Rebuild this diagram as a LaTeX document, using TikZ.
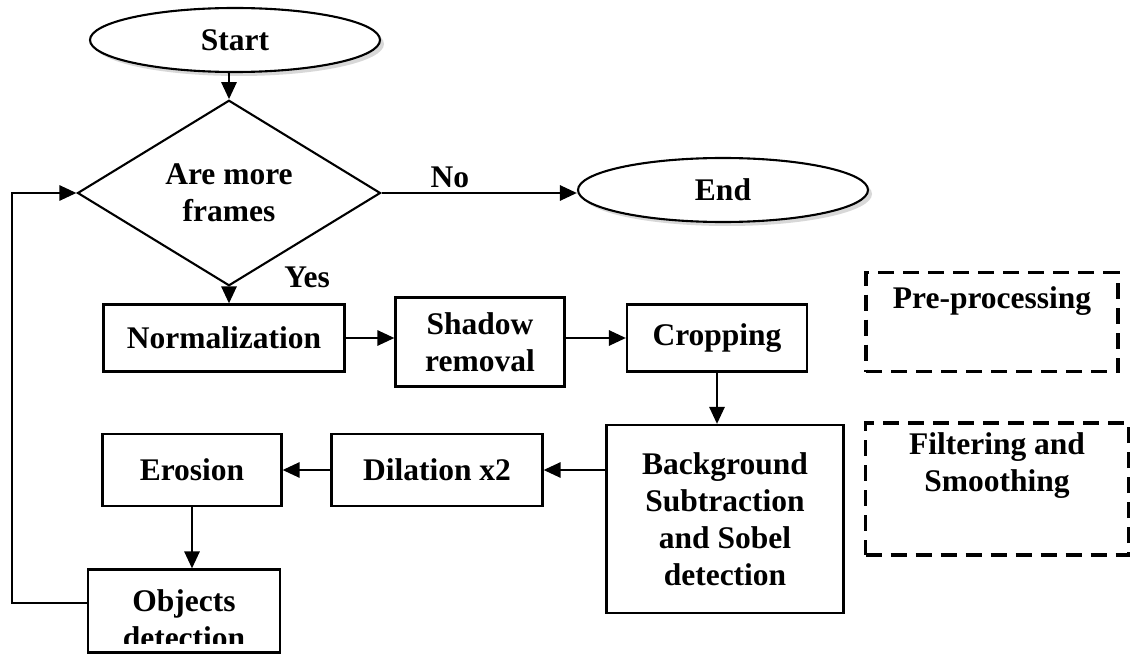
\documentclass[tikz,border=0pt]{standalone}
\usepackage{fontspec}
\setmainfont{Liberation Serif}
\usetikzlibrary{shapes,arrows.meta,shadows,positioning}

\begin{document}
\begin{tikzpicture}[x=1pt, y=-1pt, >={Triangle[length=17pt,width=15pt]}, line width=2.1pt,
  every node/.style={font=\bfseries\fontsize{31.5}{37}\selectfont, inner sep=2pt, align=center},
  term/.style={ellipse, draw, fill=white, minimum width=290pt, minimum height=64pt,
    drop shadow={shadow xshift=4pt, shadow yshift=-4pt, fill=gray!60}},
  proc/.style={rectangle, draw, fill=white},
  flow/.style={->, line width=2.7pt},
  dashbox/.style={rectangle, draw, dash pattern=on 16pt off 9pt, line width=3.8pt}]
\useasboundingbox (0,0) rectangle (1132,655);

\node[term] (start) at (235,40) {Start};
\node[diamond, draw, inner sep=0pt, minimum width=303pt, minimum height=159pt] (decision) at (229,193) {Are more\\frames};
\node[term] (stop) at (723,190) {End};
\node[proc, minimum width=241pt, minimum height=67pt] (norm) at (224,338) {Normalization};
\node[proc, minimum width=169pt, minimum height=89pt] (shadow) at (480,342) {Shadow\\removal};
\node[proc, minimum width=180pt, minimum height=67pt] (crop) at (717,338) {Cropping};
\node[proc, minimum width=237pt, minimum height=188pt] (background) at (725,519) {Background\\Subtraction\\and Sobel\\detection};
\node[proc, minimum width=211pt, minimum height=72pt] (dilation) at (437,470) {Dilation x2};
\node[proc, minimum width=179pt, minimum height=72pt] (erosion) at (192,470) {Erosion};
\node[proc, minimum width=192pt, minimum height=83pt] (objdet) at (184,611) {};
\begin{scope}
\clip (objdet.north west) rectangle ([yshift=10pt]objdet.south east);
\node (objtext) at (184,619) {Objects\\detection};
\end{scope}

\node[dashbox, minimum width=252pt, minimum height=99pt] (prebox) at (992,322) {};
\node (pretext) at ([yshift=-30pt]prebox.north) {Pre-processing};
\node[dashbox, minimum width=263pt, minimum height=132pt] (filtbox) at (997,489) {};
\node (filttext) at ([yshift=23pt]filtbox.center) {Filtering and\\Smoothing};

\draw[flow] (decision.north |- start.south) -- (decision.north);
\draw[flow] (decision.east) -- (decision.east -| stop.west) node[pos=0.35, above=2pt] {No};
\draw[flow] (decision.south) -- (decision.south |- norm.north);
\node (yes) at (307,277) {Yes};
\draw[flow] (norm.east) -- (norm.east -| shadow.west);
\draw[flow] (crop.west -| shadow.east) -- (crop.west);
\draw[flow] (crop.south) -- (crop.south |- background.north);
\draw[flow] (dilation.east -| background.west) -- (dilation.east);
\draw[flow] (dilation.west) -- (erosion.east);
\draw[flow] (erosion.south) -- (erosion.south |- objdet.north);
\draw[flow] ([yshift=8pt]objdet.west) -- ++(-75,0) |- (decision.west);
\end{tikzpicture}
\end{document}
